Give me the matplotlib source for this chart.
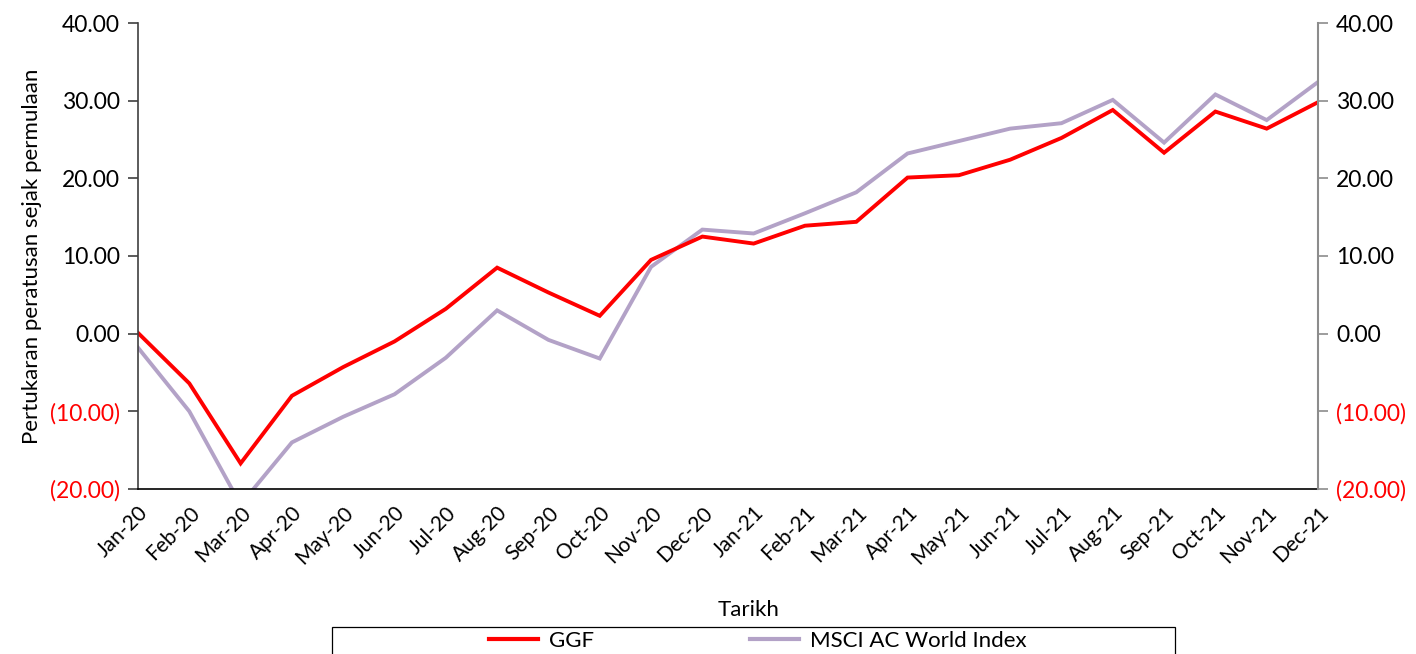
import matplotlib
matplotlib.use("Agg")
import matplotlib.pyplot as plt
from matplotlib.patches import Rectangle
from matplotlib.lines import Line2D

months = ["Jan-20", "Feb-20", "Mar-20", "Apr-20", "May-20", "Jun-20", "Jul-20", "Aug-20",
          "Sep-20", "Oct-20", "Nov-20", "Dec-20", "Jan-21", "Feb-21", "Mar-21", "Apr-21",
          "May-21", "Jun-21", "Jul-21", "Aug-21", "Sep-21", "Oct-21", "Nov-21", "Dec-21"]
ggf = [0.1, -6.4, -16.7, -8.0, -4.3, -1.0, 3.2, 8.5, 5.3, 2.3, 9.5, 12.5,
       11.6, 13.9, 14.4, 20.1, 20.4, 22.4, 25.2, 28.8, 23.3, 28.6, 26.4, 29.8]
msci = [-1.8, -10.0, -22.0, -14.0, -10.7, -7.8, -3.1, 3.0, -0.8, -3.2, 8.6, 13.4,
        12.9, 15.5, 18.2, 23.2, 24.8, 26.4, 27.1, 30.1, 24.6, 30.8, 27.5, 32.4]
yticks = [-20, -10, 0, 10, 20, 30, 40]

def fmt(v):
    return f"({abs(v):.2f})" if v < 0 else f"{v:.2f}"

plt.rcParams['font.family'] = ['Lato', 'DejaVu Sans']

fig = plt.figure(figsize=(14.16, 6.54), dpi=100)
ax = fig.add_axes([138/1416, 1-489/654, (1318-138)/1416, (489-23)/654])

x = list(range(len(months)))
red = "#FF0000"
lav = "#B3A2C7"
ax.plot(x, msci, color=lav, lw=2.8, solid_joinstyle='miter')
ax.plot(x, ggf, color=red, lw=2.8, solid_joinstyle='miter')

ax.set_xlim(0, len(months)-1)
ax.set_ylim(-20, 40)
ax.set_xticks(x)
ax.set_xticklabels(months, rotation=45, ha='right', rotation_mode='anchor', fontsize=15)
ax.tick_params(axis='x', length=0, pad=10)

ax.set_yticks(yticks)
ax.set_yticklabels([fmt(v) for v in yticks], fontsize=16.5)
for lbl, v in zip(ax.get_yticklabels(), yticks):
    lbl.set_color(red if v < 0 else 'black')
ax.tick_params(axis='y', length=7, width=1.2, color='#404040', pad=6)

for s in ['top', 'right']:
    ax.spines[s].set_visible(False)
ax.spines['left'].set_color('#404040')
ax.spines['left'].set_linewidth(1.2)
ax.spines['bottom'].set_color('black')
ax.spines['bottom'].set_linewidth(1.2)

ax2 = ax.twinx()
ax2.set_ylim(-20, 40)
ax2.set_yticks(yticks)
ax2.set_yticklabels([fmt(v) for v in yticks], fontsize=16.5)
for lbl, v in zip(ax2.get_yticklabels(), yticks):
    lbl.set_color(red if v < 0 else 'black')
ax2.tick_params(axis='y', length=7, width=1.2, color='#8C8C8C', pad=6)
for s in ['top', 'left', 'bottom']:
    ax2.spines[s].set_visible(False)
ax2.spines['right'].set_color('#8C8C8C')
ax2.spines['right'].set_linewidth(1.5)

ax.set_ylabel("Pertukaran peratusan sejak permulaan", fontsize=16, labelpad=6)
fig.text(749/1416, 1-610/654, "Tarikh", ha='center', va='center', fontsize=16)

fig.add_artist(Rectangle((332/1416, 1-665/654), (1175-332)/1416, 38/654,
                         transform=fig.transFigure, fill=False, edgecolor='black', lw=0.9))
handles = [Line2D([], [], color=red, lw=3), Line2D([], [], color=lav, lw=3)]
fig.legend(handles, ["GGF", "MSCI AC World Index"], loc='center',
           bbox_to_anchor=(758/1416, 1-641/654), ncol=2, frameon=False,
           fontsize=16, handlelength=2.2, columnspacing=7.0, handletextpad=0.5)

fig.savefig("out.png", dpi=100)
